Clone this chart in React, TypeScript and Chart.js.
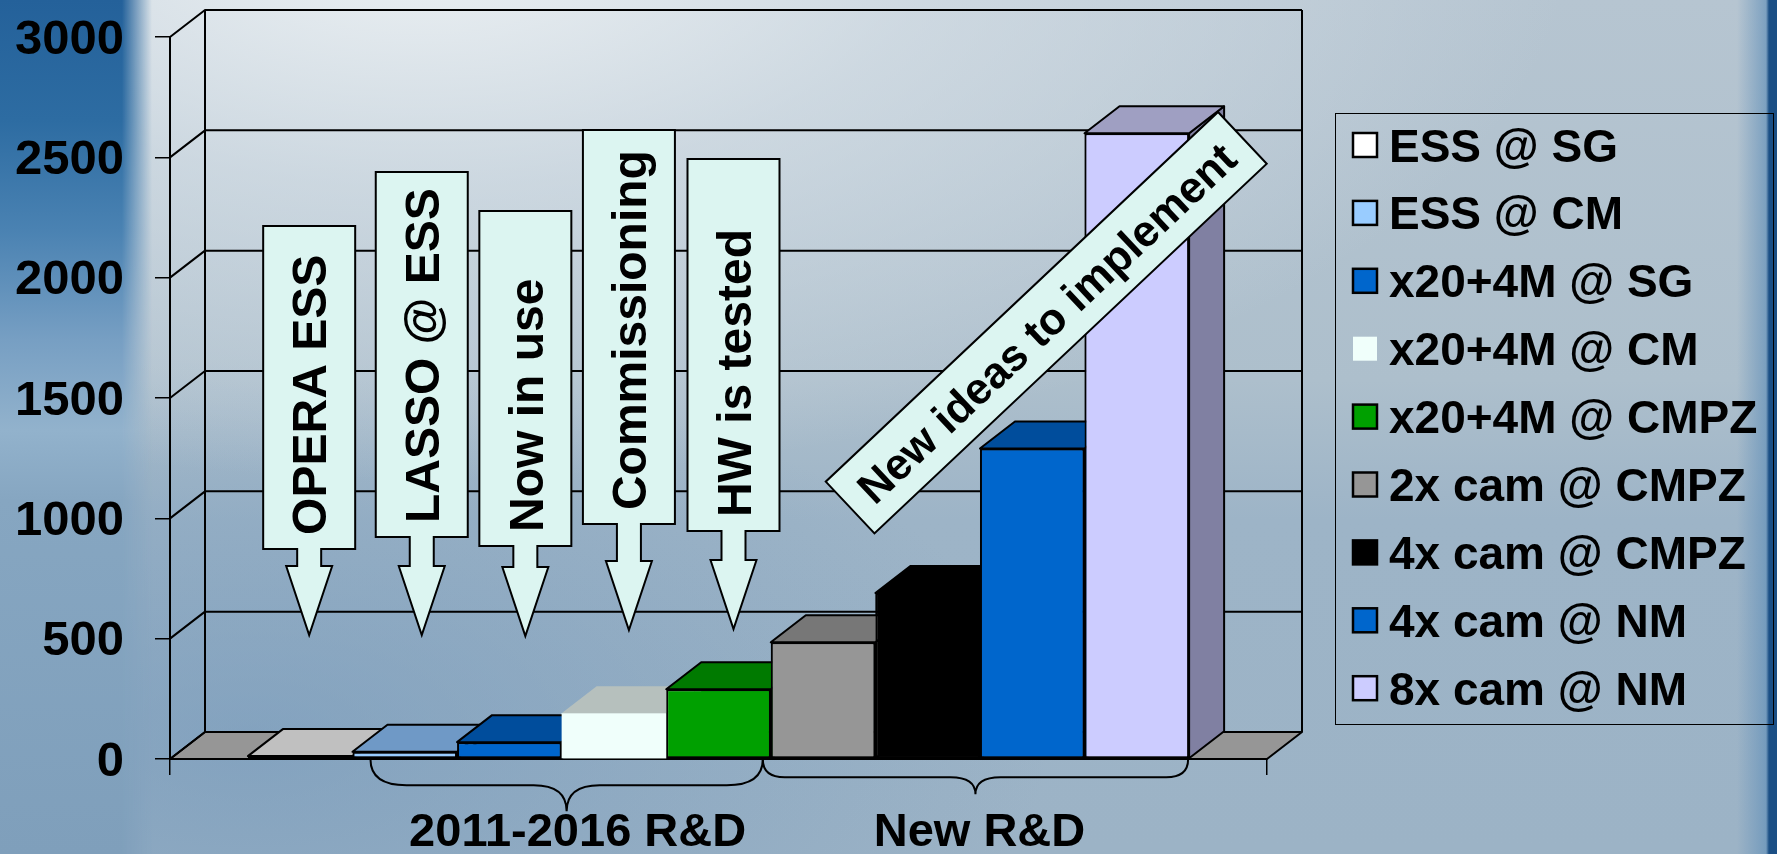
import React, { useEffect, useRef } from 'react';
import { Chart, registerables } from 'chart.js';

Chart.register(...registerables);

const FONT = '"Liberation Sans", Arial, Helvetica, sans-serif';

// ---- data ----
const groups = [''];
const seriesNames = [
  'ESS @ SG',
  'ESS @ CM',
  'x20+4M @ SG',
  'x20+4M @ CM',
  'x20+4M @ CMPZ',
  '2x cam @ CMPZ',
  '4x cam @ CMPZ',
  '4x cam @ NM',
  '8x cam @ NM',
];
const seriesValues = [12, 30, 70, 190, 290, 485, 690, 1290, 2600];
const yMin = 0;
const yMax = 3000;
const yStep = 500;

const calloutTexts = ['OPERA ESS', 'LASSO @ ESS', 'Now in use', 'Commissioning', 'HW is tested'];
const calloutBars = [0, 1, 2, 3, 4];
const calloutTops = [2215, 2439, 2277, 2614, 2493];
const calloutBottoms = [873, 922, 885, 976, 947];
const calloutTips = [515, 515, 511, 536, 540];

const ideaText = 'New ideas to implement';
const groupLabels = ['2011-2016 R&D', 'New R&D'];

// ---- styles ----
const frontColors = ['#ffffff', '#99ccff', '#0066cc', '#f0fffb', '#00a000', '#969696', '#000000', '#0066cc', '#ccccff'];
const topColors = ['#c0c0c0', '#6f99c6', '#004d9c', '#b6c0bd', '#007a00', '#777777', '#000000', '#004d9c', '#9f9fc2'];
const sideColors = ['#a0a0a0', '#5c80a6', '#003f80', '#a8b2af', '#006000', '#646464', '#000000', '#003f80', '#8080a2'];
const outlined = [true, true, true, false, true, true, true, true, true];
const calloutShift = [9, 17, 16, 15, 15];
const CALLOUT_FILL = '#dcf5f1';
const DX = 35;
const DY = -27;

type Pt = [number, number];

function poly(ctx: CanvasRenderingContext2D, pts: Pt[], fill: string, stroke: boolean) {
  ctx.beginPath();
  ctx.moveTo(pts[0][0], pts[0][1]);
  for (let i = 1; i < pts.length; i++) ctx.lineTo(pts[i][0], pts[i][1]);
  ctx.closePath();
  ctx.fillStyle = fill;
  ctx.fill();
  if (stroke) {
    ctx.strokeStyle = '#000';
    ctx.lineWidth = 2;
    ctx.lineJoin = 'round';
    ctx.stroke();
  }
}

function barBox(chart: any, i: number) {
  const el = chart.getDatasetMeta(i).data[0];
  const p = el.getProps(['x', 'y', 'base', 'width'], true);
  return { el, x: p.x, y: p.y, base: p.base, l: p.x - p.width / 2, r: p.x + p.width / 2 };
}

// back wall, side-wall gridlines and floor
const wallPlugin = {
  id: 'walls',
  beforeDatasetsDraw(chart: any) {
    const { ctx, chartArea: ca } = chart;
    const ys = chart.scales.y;
    ctx.save();
    poly(
      ctx,
      [
        [ca.left, ca.bottom],
        [ca.right, ca.bottom],
        [ca.right + DX, ca.bottom + DY],
        [ca.left + DX, ca.bottom + DY],
      ],
      '#969696',
      true,
    );
    ctx.strokeStyle = '#000';
    ctx.lineWidth = 2;
    ys.ticks.forEach((t: any) => {
      const y = ys.getPixelForValue(t.value);
      ctx.beginPath();
      ctx.moveTo(ca.left, y);
      ctx.lineTo(ca.left + DX, y + DY);
      ctx.lineTo(ca.right + DX, y + DY);
      ctx.stroke();
    });
    ctx.beginPath();
    ctx.moveTo(ca.left + DX, ca.top + DY);
    ctx.lineTo(ca.left + DX, ca.bottom + DY);
    ctx.moveTo(ca.right + DX, ca.top + DY);
    ctx.lineTo(ca.right + DX, ca.bottom + DY);
    ctx.stroke();
    ctx.restore();
  },
};

// redraw bars left to right with their side and top faces
const bars3dPlugin = {
  id: 'bars3d',
  afterDatasetsDraw(chart: any) {
    const { ctx } = chart;
    ctx.save();
    chart.data.datasets.forEach((_: any, i: number) => {
      const b = barBox(chart, i);
      poly(
        ctx,
        [
          [b.r, b.y],
          [b.r + DX, b.y + DY],
          [b.r + DX, b.base + DY],
          [b.r, b.base],
        ],
        sideColors[i],
        outlined[i],
      );
      b.el.draw(ctx);
      poly(
        ctx,
        [
          [b.l, b.y],
          [b.r, b.y],
          [b.r + DX, b.y + DY],
          [b.l + DX, b.y + DY],
        ],
        topColors[i],
        outlined[i],
      );
    });
    ctx.restore();
  },
};

function drawBrace(ctx: CanvasRenderingContext2D, x1: number, x2: number, yTop: number, yMid: number, yTip: number, r: number, r2: number) {
  const tx = (x1 + x2) / 2;
  ctx.beginPath();
  ctx.moveTo(x1, yTop);
  ctx.quadraticCurveTo(x1, yMid, x1 + r, yMid);
  ctx.lineTo(tx - r2, yMid);
  ctx.quadraticCurveTo(tx, yMid, tx, yTip);
  ctx.quadraticCurveTo(tx, yMid, tx + r2, yMid);
  ctx.lineTo(x2 - r, yMid);
  ctx.quadraticCurveTo(x2, yMid, x2, yTop);
  ctx.stroke();
}

// callouts, braces, group labels and legend
const overlayPlugin = {
  id: 'overlay',
  afterDraw(chart: any) {
    const { ctx } = chart;
    const ys = chart.scales.y;
    ctx.save();
    ctx.lineJoin = 'miter';

    // down-arrow callouts
    const calloutFont = 48;
    calloutTexts.forEach((text, k) => {
      const b = barBox(chart, calloutBars[k]);
      const cx = b.x + calloutShift[k];
      const top = ys.getPixelForValue(calloutTops[k]);
      const bottom = ys.getPixelForValue(calloutBottoms[k]);
      const tip = ys.getPixelForValue(calloutTips[k]);
      const headTop = tip - 69;
      const w = 92;
      const sw = 24;
      const hw = 46;
      ctx.beginPath();
      ctx.moveTo(cx - w / 2, top);
      ctx.lineTo(cx + w / 2, top);
      ctx.lineTo(cx + w / 2, bottom);
      ctx.lineTo(cx + sw / 2, bottom);
      ctx.lineTo(cx + sw / 2, headTop);
      ctx.lineTo(cx + hw / 2, headTop);
      ctx.lineTo(cx, tip);
      ctx.lineTo(cx - hw / 2, headTop);
      ctx.lineTo(cx - sw / 2, headTop);
      ctx.lineTo(cx - sw / 2, bottom);
      ctx.lineTo(cx - w / 2, bottom);
      ctx.closePath();
      ctx.fillStyle = CALLOUT_FILL;
      ctx.fill();
      ctx.strokeStyle = '#000';
      ctx.lineWidth = 2;
      ctx.stroke();

      ctx.save();
      ctx.translate(cx, bottom - 14);
      ctx.rotate(-Math.PI / 2);
      ctx.font = `bold ${calloutFont}px ${FONT}`;
      ctx.fillStyle = '#000';
      ctx.textAlign = 'left';
      ctx.textBaseline = 'alphabetic';
      ctx.fillText(text, 0, calloutFont * 0.358);
      ctx.restore();
    });

    // tilted note over the tallest bars
    {
      const b = barBox(chart, 7);
      const cx = b.x + 14;
      const cy = ys.getPixelForValue(1813);
      const len = 539;
      const th = 71;
      const fs = 44;
      ctx.save();
      ctx.translate(cx, cy);
      ctx.rotate((-43.3 * Math.PI) / 180);
      ctx.beginPath();
      ctx.rect(-len / 2, -th / 2, len, th);
      ctx.fillStyle = CALLOUT_FILL;
      ctx.fill();
      ctx.strokeStyle = '#000';
      ctx.lineWidth = 2;
      ctx.stroke();
      ctx.font = `bold ${fs}px ${FONT}`;
      ctx.fillStyle = '#000';
      ctx.textAlign = 'center';
      ctx.textBaseline = 'alphabetic';
      ctx.fillText(ideaText, 0, fs * 0.358);
      ctx.restore();
    }

    // group braces under the floor
    const b1 = barBox(chart, 1);
    const b4 = barBox(chart, 4);
    const b8 = barBox(chart, 8);
    const floor = b1.base + 1;
    const split = b4.r - 8;
    ctx.strokeStyle = '#000';
    ctx.lineWidth = 2;
    drawBrace(ctx, b1.l + 18, split, floor, floor + 26, floor + 52, 36, 33);
    drawBrace(ctx, split, b8.r - 1, floor, floor + 18, floor + 35, 22, 25);

    ctx.font = `bold 47px ${FONT}`;
    ctx.fillStyle = '#000';
    ctx.textAlign = 'center';
    ctx.textBaseline = 'alphabetic';
    ctx.fillText(groupLabels[0], (b1.l + 18 + split) / 2 + 11, 846);
    ctx.fillText(groupLabels[1], (split + b8.r - 1) / 2 + 4, 846);

    // legend
    const lx = 1335;
    const ly = 113;
    const lw = 438;
    const lh = 611;
    ctx.lineWidth = 1;
    ctx.strokeStyle = '#000';
    ctx.strokeRect(lx + 0.5, ly + 0.5, lw, lh);
    ctx.font = `bold 46px ${FONT}`;
    ctx.textAlign = 'left';
    chart.data.datasets.forEach((ds: any, i: number) => {
      const cy = 145 + i * 67.9;
      ctx.fillStyle = frontColors[i];
      ctx.fillRect(1353, cy - 12, 24, 24);
      if (outlined[i]) {
        ctx.lineWidth = 2.5;
        ctx.strokeRect(1353, cy - 12, 24, 24);
      }
      ctx.fillStyle = '#000';
      ctx.fillText(ds.label, 1389, cy + 16.5);
    });
    ctx.restore();
  },
};

export default function App() {
  const canvasRef = useRef<HTMLCanvasElement>(null);

  useEffect(() => {
    const canvas = canvasRef.current;
    if (!canvas) return;
    const chart = new Chart(canvas, {
      type: 'bar',
      data: {
        labels: groups,
        datasets: seriesNames.map((name, i) => ({
          label: name,
          data: [seriesValues[i]],
          backgroundColor: frontColors[i],
          borderColor: outlined[i] ? '#000' : frontColors[i],
          borderWidth: outlined[i] ? 2 : 0,
          borderSkipped: false,
          categoryPercentage: 0.858,
          barPercentage: 1,
        })),
      },
      options: {
        responsive: false,
        animation: false,
        devicePixelRatio: 1,
        events: [],
        layout: { padding: { left: 0, top: 37, right: 510, bottom: 0 } },
        plugins: { legend: { display: false }, tooltip: { enabled: false } },
        scales: {
          x: {
            offset: true,
            grid: {
              display: true,
              offset: true,
              drawOnChartArea: false,
              drawTicks: true,
              tickLength: 16,
              color: '#000',
              lineWidth: 1.5,
            },
            border: { display: true, color: '#000', width: 2 },
            ticks: { display: false },
            afterFit: (s: any) => {
              s.height = 95;
              s.paddingLeft = 0;
              s.paddingRight = 0;
            },
          },
          y: {
            min: yMin,
            max: yMax,
            ticks: {
              stepSize: yStep,
              color: '#000',
              padding: 31,
              labelOffset: 3,
              font: { family: FONT, size: 49, weight: 'bold' },
              callback: (v: any) => String(v),
            },
            grid: {
              drawOnChartArea: false,
              drawTicks: true,
              tickLength: 15,
              color: '#000',
              lineWidth: 1.5,
            },
            border: { display: true, color: '#000', width: 2 },
            afterFit: (s: any) => {
              s.width = 170;
              s.paddingTop = 0;
              s.paddingBottom = 0;
            },
          },
        },
      } as any,
      plugins: [wallPlugin, bars3dPlugin, overlayPlugin],
    });
    return () => chart.destroy();
  }, []);

  return (
    <div
      style={{
        position: 'fixed',
        left: 0,
        top: 0,
        width: 1777,
        height: 854,
        overflow: 'hidden',
        background: [
          'linear-gradient(to left, #1b4f85 0px, #1b4f85 8px, rgba(100,145,185,0.7) 11px, rgba(150,180,205,0) 40px)',
          'radial-gradient(ellipse 1150px 540px at 420px -60px, rgba(240,244,246,0.95) 0%, rgba(222,230,236,0.6) 45%, rgba(200,212,222,0.25) 88%, rgba(200,212,222,0) 100%)',
          'radial-gradient(ellipse 800px 380px at 250px 740px, rgba(110,148,184,0.55) 0%, rgba(110,148,184,0) 100%)',
          'linear-gradient(to bottom, #b6c5d1 0px, #adbfcc 380px, #9db4c7 520px, #9cb3c6 854px)',
        ].join(', '),
      }}
    >
      <div
        style={{
          position: 'absolute',
          left: 0,
          top: 0,
          width: 155,
          height: 854,
          background:
            'linear-gradient(to bottom, #24619a 0px, #2d6ca2 120px, #4a82b2 230px, #779fc3 340px, #92b2cc 430px, #86a6c1 500px, #7f9fbb 854px)',
          WebkitMaskImage: 'linear-gradient(to right, #000 122px, rgba(0,0,0,0) 152px)',
          maskImage: 'linear-gradient(to right, #000 122px, rgba(0,0,0,0) 152px)',
        }}
      />
      <canvas
        ref={canvasRef}
        width={1777}
        height={854}
        style={{ position: 'absolute', left: 0, top: 0, width: 1777, height: 854 }}
      />
    </div>
  );
}
